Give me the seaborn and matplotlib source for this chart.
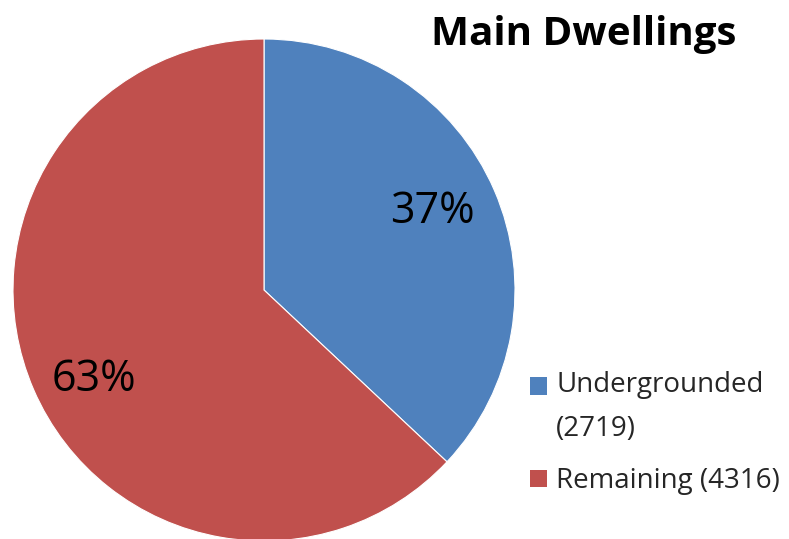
import matplotlib
matplotlib.use("Agg")
import matplotlib.pyplot as plt
from matplotlib.patches import Rectangle
from matplotlib.legend_handler import HandlerPatch
import seaborn as sns

categories = ["Undergrounded", "Remaining"]
shares = [37, 63]
counts = [2719, 4316]
colors = ["#4F81BD", "#C0504D"]
title = "Main Dwellings"

sns.set_theme(style="white")
plt.rcParams["font.family"] = ["Open Sans", "DejaVu Sans"]

fig = plt.figure(figsize=(7.89, 5.39), dpi=100)
ax = fig.add_axes([0, 0, 1, 1])

W, H = 789, 539
cx, cy, r = 264, H - 290, 251

wedges, texts, autotexts = ax.pie(
    shares, colors=colors, startangle=90, counterclock=False,
    center=(cx, cy), radius=r, autopct="%d%%", pctdistance=0.75,
    textprops=dict(fontsize=31, color="black"),
    wedgeprops=dict(linewidth=0.8, edgecolor="white"),
)
# nudge label placement to match the reference layout
autotexts[0].set_position((432, H - 212))
autotexts[1].set_position((94, H - 380))

ax.set_xlim(0, W)
ax.set_ylim(0, H)
ax.set_aspect("auto")
ax.axis("off")

ax.text(584, H - 34, title, ha="center", va="center", fontsize=29,
        fontweight="bold", color="black")

labels = [f"{c}\n({n})" if i == 0 else f"{c} ({n})"
          for i, (c, n) in enumerate(zip(categories, counts))]


def square(shift):
    def make(legend, orig_handle, xdescent, ydescent, width, height, fontsize):
        return Rectangle((-xdescent, -ydescent + shift), width, height)
    return make


hmap = {wedges[0]: HandlerPatch(patch_func=square(15.5)),
        wedges[1]: HandlerPatch(patch_func=square(0.0))}
leg = ax.legend(wedges, labels, loc="upper left",
                bbox_to_anchor=(530 / W, 1 - 371 / H),
                frameon=False, fontsize=20, handlelength=0.6, handleheight=0.6,
                handletextpad=0.34, labelspacing=0.88, borderpad=0, borderaxespad=0,
                handler_map=hmap)
for t in leg.get_texts():
    t.set_linespacing(1.75)
for h in leg.legend_handles:
    h.set_edgecolor("none")

fig.savefig("out.png", dpi=100)
